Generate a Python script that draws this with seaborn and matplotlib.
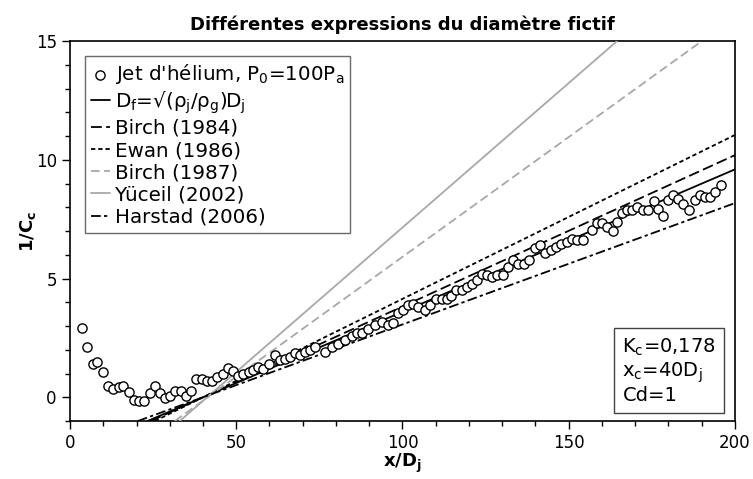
import numpy as np
import pandas as pd
import matplotlib
matplotlib.use("Agg")
import matplotlib.pyplot as plt
from matplotlib.ticker import MultipleLocator
import seaborn as sns

# Style
sns.set_style("ticks")
plt.rcParams["font.family"] = ["DejaVu Sans"]
plt.rcParams["mathtext.default"] = "regular"

# Measured points (helium jet)
x_data = [3.5, 5.2, 6.8, 8.2, 9.8, 11.4, 13.0, 14.6, 16.0, 17.6, 19.2, 20.8, 22.3,
          24.1, 25.6, 27.1, 28.6, 30.1, 31.7, 33.3, 34.9, 36.3, 37.9, 39.6, 41.1,
          42.7, 44.3, 45.9, 47.5, 48.9, 50.6, 52.1, 53.7, 55.1, 56.6, 58.1, 59.9,
          61.7, 63.2, 64.7, 66.2, 67.7, 69.2, 70.7, 72.2, 73.7, 76.7, 78.7, 80.7,
          82.7, 84.7, 86.2, 87.7, 89.7, 91.7, 93.7, 95.7, 97.2, 98.8, 100.2, 101.7,
          103.2, 104.7, 106.8, 108.3, 110.1, 111.8, 113.3, 114.5, 116.1, 117.8,
          119.3, 120.8, 122.3, 123.8, 125.3, 126.8, 128.3, 130.1, 131.8, 133.3,
          134.8, 136.5, 138.1, 139.8, 141.4, 143.0, 144.6, 146.2, 147.8, 149.4,
          151.0, 152.6, 154.2, 156.9, 158.4, 159.9, 161.4, 163.2, 164.4, 165.9,
          167.4, 168.9, 170.6, 172.2, 173.9, 175.6, 176.9, 178.4, 179.9, 181.4,
          182.9, 184.4, 186.2, 188.0, 189.5, 190.9, 192.5, 194.0, 195.7]
y_data = [2.94, 2.12, 1.42, 1.49, 1.05, 0.48, 0.37, 0.43, 0.48, 0.21, -0.13, -0.15, -0.15,
          0.18, 0.49, 0.20, -0.01, 0.07, 0.25, 0.25, 0.04, 0.27, 0.75, 0.79, 0.69,
          0.69, 0.86, 1.00, 1.25, 1.11, 0.88, 0.97, 1.07, 1.17, 1.28, 1.21, 1.42,
          1.77, 1.56, 1.63, 1.70, 1.87, 1.77, 1.91, 2.01, 2.12, 1.91, 2.12, 2.26,
          2.40, 2.57, 2.71, 2.71, 2.89, 3.03, 3.17, 3.03, 3.13, 3.53, 3.67, 3.88,
          3.95, 3.81, 3.67, 3.90, 4.16, 4.16, 4.16, 4.26, 4.51, 4.54,
          4.65, 4.76, 4.93, 5.21, 5.14, 5.07, 5.14, 5.14, 5.49, 5.77,
          5.63, 5.63, 5.77, 6.27, 6.42, 6.08, 6.20, 6.31, 6.45, 6.56,
          6.65, 6.62, 6.62, 7.04, 7.35, 7.35, 7.18, 7.01, 7.39, 7.77,
          7.88, 7.91, 8.02, 7.91, 7.88, 8.27, 7.95, 7.63, 8.33, 8.51,
          8.37, 8.16, 7.91, 8.30, 8.51, 8.44, 8.44, 8.65, 8.96]

# Model lines: two end points each
line_labels = [r"D$_f$=√(ρ$_j$/ρ$_g$)D$_j$", "Birch (1984)", "Ewan (1986)",
               "Birch (1987)", "Yüceil (2002)", "Harstad (2006)"]
line_x = [[23.3, 200], [24.3, 200], [25.5, 200], [31.5, 190.0], [33.0, 164.5], [20.4, 200]]
line_y = [[-1, 9.6], [-1, 10.2], [-1, 11.05], [-1, 15], [-1, 15], [-1, 8.18]]
line_colors = ["black", "black", "black", "#a8a8a8", "#a8a8a8", "black"]
line_styles = ["-", (0, (6, 2.4)), (0, (2.4, 1.6)), (0, (4.8, 2.4)), "-",
               (0, (5.4, 1.8, 1.8, 1.8))]

fig = plt.figure(figsize=(7.53, 4.79), dpi=100)
ax = fig.add_axes([0.093, 0.121, 0.883, 0.793])

handles = []
sns.scatterplot(x=x_data, y=y_data, ax=ax, marker="o", s=44,
                facecolor="white", edgecolor="black", linewidth=1.0,
                label=r"Jet d'hélium, P$_0$=100P$_a$", zorder=5)
handles.append(ax.collections[-1])

for lx, ly, lab, col, ls in zip(line_x, line_y, line_labels, line_colors, line_styles):
    df = pd.DataFrame({"x": lx, "y": ly})
    sns.lineplot(data=df, x="x", y="y", ax=ax, color=col, linestyle=ls,
                 linewidth=1.3, label=lab, zorder=3)
    handles.append(ax.lines[-1])

ax.set_xlim(0, 200)
ax.set_ylim(-1, 15)
ax.xaxis.set_major_locator(MultipleLocator(50))
ax.xaxis.set_minor_locator(MultipleLocator(10))
ax.yaxis.set_major_locator(MultipleLocator(5))
ax.yaxis.set_minor_locator(MultipleLocator(1))
ax.tick_params(which="major", direction="out", length=6, width=1, labelsize=12,
               color="black", labelcolor="black")
ax.tick_params(which="minor", direction="out", length=3.5, width=1, color="black")
for sp in ax.spines.values():
    sp.set_linewidth(1.2)
    sp.set_color("black")

ax.set_title("Différentes expressions du diamètre fictif", fontsize=13,
             fontweight="bold", pad=8, color="black")
ax.set_xlabel(r"x/D$_j$", fontsize=13, fontweight="bold", labelpad=0, color="black")
ax.set_ylabel(r"1/C$_c$", fontsize=13, fontweight="bold", labelpad=-2, color="black")

leg = ax.legend(handles=handles, labels=[h.get_label() for h in handles],
                loc="upper left", fontsize=14.3, frameon=True, fancybox=False,
                edgecolor="#444444", handlelength=0.95, handletextpad=0.25,
                labelspacing=0.16, borderaxespad=0.75, borderpad=0.3)
leg.get_frame().set_linewidth(1.0)
for t in leg.get_texts():
    t.set_color("black")

ax.text(0.972, 0.042, "K$_c$=0,178\nx$_c$=40D$_j$\nCd=1", transform=ax.transAxes,
        ha="right", va="bottom", multialignment="left", fontsize=14, linespacing=1.1,
        color="black",
        bbox=dict(boxstyle="square,pad=0.42", facecolor="white", edgecolor="#444444"))

fig.savefig("out.png", dpi=100)
